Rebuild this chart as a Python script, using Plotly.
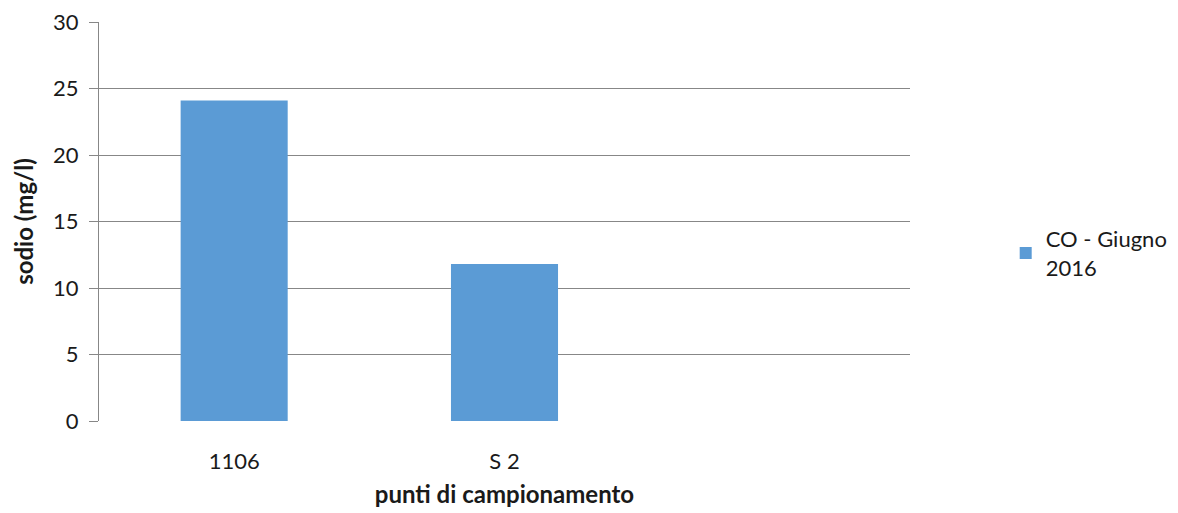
import plotly.graph_objects as go

# Sodium concentration per sampling point
categories = ["1106", "S 2", " "]
sodio = [24.1, 11.8, None]
series_name = "CO - Giugno<br>2016"
y_ticks = [0, 5, 10, 15, 20, 25, 30]

font_family = "Lato, 'Open Sans', sans-serif"

fig = go.Figure()
fig.add_trace(go.Bar(
    x=categories,
    y=sodio,
    name=series_name,
    marker=dict(color="#5B9BD5", line=dict(width=0)),
    showlegend=True,
))

fig.update_layout(
    width=1178,
    height=513,
    margin=dict(l=99, r=268, t=22, b=92, autoexpand=False),
    paper_bgcolor="white",
    plot_bgcolor="white",
    bargap=0.604,
    font=dict(family=font_family, size=22, color="#1a1a1a"),
    legend=dict(
        x=1.118, y=0.42, xanchor="left", yanchor="middle",
        font=dict(size=22, color="#1a1a1a"),
        itemwidth=30,
    ),
    xaxis=dict(
        type="category",
        categoryorder="array",
        categoryarray=categories,
        showgrid=False,
        ticks="",
        showline=False,
        tickfont=dict(size=22),
        ticklabelstandoff=25,
        title=dict(text="<b>punti di campionamento</b>", font=dict(size=24), standoff=13),
    ),
    yaxis=dict(
        range=[0, 30],
        tickvals=y_ticks,
        showgrid=True,
        gridcolor="#878787",
        gridwidth=1,
        showline=True,
        linecolor="#878787",
        linewidth=1,
        ticks="outside",
        ticklen=9,
        tickcolor="#878787",
        ticklabelstandoff=6,
        zeroline=False,
        tickfont=dict(size=22),
        title=dict(text="<b>sodio (mg/l)</b>", font=dict(size=24), standoff=12),
    ),
)

fig.write_html("out.html")
